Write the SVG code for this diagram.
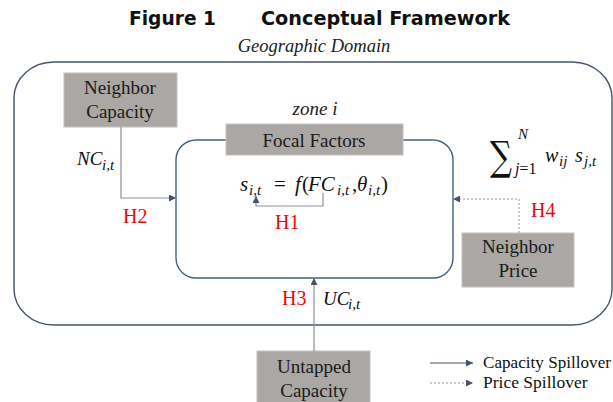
<svg xmlns="http://www.w3.org/2000/svg" width="613" height="402" viewBox="0 0 613 402">
<defs>
<style>
.box{fill:#aaa7a5;stroke:#c4c1bf;stroke-width:1}
.bt{font-family:"Liberation Serif",serif;font-size:19px;fill:#1a1a1a;text-anchor:middle}
.h{font-family:"Liberation Serif",serif;font-size:20px;fill:#ff0000}
.m{font-family:"Liberation Serif",serif;font-style:italic;fill:#111}
.mr{font-style:normal}
.ln{fill:none;stroke:#8a8f98;stroke-width:1.2}
.dl{fill:none;stroke:#9a9a9a;stroke-width:1;stroke-dasharray:2 2}
</style>
<marker id="ah" viewBox="0 0 10 10" refX="10" refY="5" markerWidth="7" markerHeight="7" markerUnits="userSpaceOnUse" orient="auto">
<path d="M0,0 L10,5 L0,10 z" fill="#44546a"/>
</marker>
</defs>
<rect width="613" height="402" fill="#ffffff"/>
<text x="129" y="25" font-family="DejaVu Sans,sans-serif" font-weight="bold" font-size="19" textLength="87" lengthAdjust="spacingAndGlyphs" fill="#111">Figure 1</text>
<text x="261" y="25" font-family="DejaVu Sans,sans-serif" font-weight="bold" font-size="19" textLength="249" lengthAdjust="spacingAndGlyphs" fill="#111">Conceptual Framework</text>
<text x="314" y="52" font-family="Liberation Serif,serif" font-style="italic" font-size="18.5" text-anchor="middle" fill="#222">Geographic Domain</text>
<g id="domain">
<rect x="14" y="62" width="598" height="263" rx="40" ry="36" fill="none" stroke="#44546a" stroke-width="1.4"/>
</g>
<g id="zone">
<rect x="176" y="140" width="277" height="138" rx="20" ry="20" fill="none" stroke="#41607f" stroke-width="1.4"/>
<text x="315" y="115" font-family="Liberation Serif,serif" font-style="italic" font-size="19" text-anchor="middle" fill="#222">zone i</text>
</g>
<g id="focal">
<rect class="box" x="226" y="124" width="177" height="31"/>
<text class="bt" x="314" y="147">Focal Factors</text>
</g>
<g id="neighbor-capacity">
<rect class="box" x="64" y="73" width="113" height="54"/>
<text class="bt" x="120" y="94">Neighbor</text>
<text class="bt" x="120" y="118">Capacity</text>
</g>
<g id="neighbor-price">
<rect class="box" x="462" y="233" width="112" height="54"/>
<text class="bt" x="518" y="253">Neighbor</text>
<text class="bt" x="518" y="277">Price</text>
</g>
<g id="untapped">
<rect class="box" x="257" y="351" width="113" height="56"/>
<text class="bt" x="314" y="373">Untapped</text>
<text class="bt" x="314" y="397">Capacity</text>
</g>
<g id="equation">
<text class="m" font-size="21"><tspan x="240" y="191">s</tspan><tspan x="249" y="195" font-size="15">i,t</tspan><tspan class="mr" x="274" y="191">=</tspan><tspan x="295" y="191">f</tspan><tspan class="mr" x="302" y="191">(</tspan><tspan x="308" y="191">FC</tspan><tspan x="337" y="195" font-size="15">i,t</tspan><tspan class="mr" x="352" y="191">,</tspan><tspan x="357" y="191">θ</tspan><tspan x="368" y="195" font-size="15">i,t</tspan><tspan class="mr" x="381" y="191">)</tspan></text>
</g>
<g id="sum">
<text x="490" y="170" font-family="DejaVu Serif,serif" font-size="40" textLength="22" lengthAdjust="spacingAndGlyphs" fill="#111">∑</text>
<text class="m" font-size="15" x="518" y="139">N</text>
<text class="m" font-size="16" x="515" y="174"><tspan>j</tspan><tspan class="mr">=1</tspan></text>
<text class="m" font-size="20"><tspan x="545" y="162">w</tspan><tspan x="559" y="166" font-size="15">ij</tspan><tspan x="575" y="162">s</tspan><tspan x="584" y="166" font-size="15">j,t</tspan></text>
</g>
<g id="connectors">
<path class="ln" d="M121,127 V198 H176" marker-end="url(#ah)"/>
<path class="ln" d="M323,193 V206 H256 V196" marker-end="url(#ah)"/>
<path class="ln" d="M314,351 V278" marker-end="url(#ah)"/>
<path class="dl" d="M519,233 V199 H453" marker-end="url(#ah)"/>
</g>
<g id="labels">
<text class="m" font-size="19"><tspan x="77" y="165">NC</tspan><tspan x="102" y="170" font-size="15">i,t</tspan></text>
<text class="m" font-size="19"><tspan x="323" y="305">UC</tspan><tspan x="348" y="309" font-size="15">i,t</tspan></text>
<text class="h" x="275" y="229">H1</text>
<text class="h" x="123" y="223">H2</text>
<text class="h" x="282" y="305">H3</text>
<text class="h" x="531" y="217">H4</text>
</g>
<g id="legend">
<path d="M430,363 H473" stroke="#44546a" stroke-width="1.1" fill="none" marker-end="url(#ah)"/>
<path class="dl" d="M430,383 H473" marker-end="url(#ah)"/>
<text x="483" y="368" font-family="Liberation Serif,serif" font-size="17.5" textLength="128" lengthAdjust="spacingAndGlyphs" fill="#111">Capacity Spillover</text>
<text x="483" y="388" font-family="Liberation Serif,serif" font-size="17.5" fill="#111">Price Spillover</text>
</g>
</svg>
